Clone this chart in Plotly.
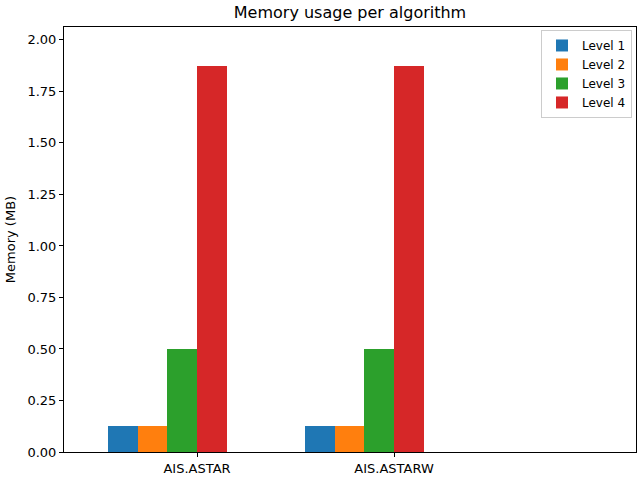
import plotly.graph_objects as go

categories = ["AIS.ASTAR", "AIS.ASTARW"]
series_names = ["Level 1", "Level 2", "Level 3", "Level 4"]
level1 = [0.125, 0.125]
level2 = [0.125, 0.125]
level3 = [0.5, 0.5]
level4 = [1.875, 1.875]
values = [level1, level2, level3, level4]
colors = ["#1f77b4", "#ff7f0e", "#2ca02c", "#d62728"]
y_ticks = [0.0, 0.25, 0.5, 0.75, 1.0, 1.25, 1.5, 1.75, 2.0]

bar_w = 0.15
xs = list(range(len(categories)))

fig = go.Figure()
for i, (name, vals) in enumerate(zip(series_names, values)):
    fig.add_trace(go.Bar(
        x=xs, y=vals, name=name,
        width=bar_w, offset=-0.45 + bar_w * i,
        marker=dict(color=colors[i], line=dict(width=0)),
    ))

fig.update_layout(
    width=640, height=480,
    barmode="overlay",
    paper_bgcolor="white", plot_bgcolor="white",
    font=dict(family="DejaVu Sans", size=13, color="black"),
    margin=dict(l=64, r=4, t=27, b=28, autoexpand=False),
    title=dict(text="Memory usage per algorithm", x=0.5, xanchor="center",
               xref="paper", y=1 - 12 / 480, yanchor="middle", font=dict(size=16)),
    showlegend=True,
    legend=dict(x=0.993, y=0.993, xanchor="right", yanchor="top",
                bordercolor="#cccccc", borderwidth=1, bgcolor="rgba(255,255,255,0.8)",
                font=dict(size=12), tracegroupgap=0, traceorder="normal",
                itemwidth=30),
    bargap=0,
)
fig.update_xaxes(
    range=[-0.675, 2.228], tickvals=xs, ticktext=categories,
    showline=True, mirror=True, linecolor="black", linewidth=1,
    ticks="outside", ticklen=4, tickcolor="black", showgrid=False, zeroline=False,
    automargin=False,
)
fig.update_yaxes(
    range=[0, 2.0625], tickvals=y_ticks, ticktext=[f"{v:.2f}" for v in y_ticks],
    title=dict(text="Memory (MB)", standoff=8, font=dict(size=13)),
    showline=True, mirror=True, linecolor="black", linewidth=1,
    ticks="outside", ticklen=4, tickcolor="black", showgrid=False, zeroline=False,
    automargin=False,
)

fig.write_html("out.html", config={"displayModeBar": False},
               post_script="document.body.style.margin='0';")
